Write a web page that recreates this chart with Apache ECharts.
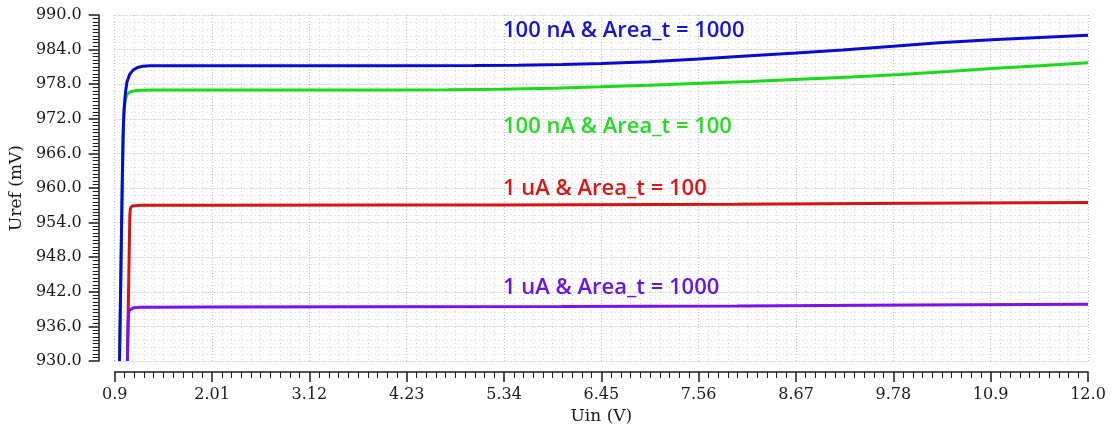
<!DOCTYPE html>
<html><head><meta charset="utf-8">
<script src="https://cdn.jsdelivr.net/npm/echarts@6/dist/echarts.min.js"></script>
<style>html,body{margin:0;padding:0;background:#fff}#c{width:1114px;height:432px}</style>
</head><body><div id="c"></div>
<script>
// ---- data ----
const xTickLabels = ['0.9','2.01','3.12','4.23','5.34','6.45','7.56','8.67','9.78','10.9','12.0'];
const seriesNames = ['100 nA & Area_t = 1000','100 nA & Area_t = 100','1 uA & Area_t = 100','1 uA & Area_t = 1000'];

const blueX = [0.955,0.97,0.985,0.995,1.005,1.02,1.04,1.07,1.11,1.16,1.22,1.3,1.5,2.0,3.0,4.0,5.0,5.5,6.0,6.45,7.0,7.56,8.1,8.67,9.2,9.78,10.3,10.9,11.45,12.0];
const blueY = [930,945,960,968.5,973.2,976.2,978.4,979.7,980.45,980.9,981.1,981.2,981.2,981.2,981.2,981.2,981.25,981.3,981.4,981.6,981.9,982.35,982.9,983.4,983.95,984.6,985.2,985.7,986.1,986.5];

const greenX = [0.955,0.97,0.985,0.998,1.01,1.025,1.045,1.08,1.13,1.2,1.3,1.5,2.0,3.0,4.0,4.7,5.3,5.9,6.44,7.0,7.58,8.15,8.72,9.3,9.86,10.4,10.95,11.45,12.0];
const greenY = [930,945,960,970.8,974.0,975.6,976.3,976.7,976.85,976.95,977.0,977.0,977.0,977.0,977.0,977.05,977.12,977.3,977.55,977.83,978.15,978.48,978.85,979.25,979.7,980.2,980.75,981.2,981.7];

const redX = [1.045,1.053,1.06,1.067,1.073,1.08,1.1,1.2,2.0,4.0,5.3,8.0,10.0,12.0];
const redY = [930,937.5,944,950.5,955.5,956.5,956.9,957.0,957.0,957.05,957.07,957.2,957.35,957.5];

const purpleX = [1.045,1.052,1.058,1.065,1.08,1.12,1.2,1.4,2.0,4.0,6.0,8.0,10.0,12.0];
const purpleY = [930,936,938.2,938.8,939.1,939.25,939.3,939.33,939.35,939.4,939.45,939.55,939.7,939.85];

const zip = (xs, ys) => xs.map((x, i) => [x, ys[i]]);

const colors = ['#0a0ad8','#18dc18','#dc1010','#7d10f0'];
const labelColors = ['#1414d8','#22dd22','#e01414','#6a12e8'];
const labelPos = [[503,29],[503,125],[503,187],[503,286]];

const chart = echarts.init(document.getElementById('c'), null, {renderer:'canvas'});
const serif = 'DejaVu Serif';

function mk(name, xs, ys, color, z){
  return {name, type:'line', data: zip(xs, ys), showSymbol:false, symbol:'none',
    lineStyle:{color, width:3}, itemStyle:{color}, z, smooth:false, animation:false};
}

chart.setOption({
  animation:false,
  grid:{left:113, right:26, top:15, bottom:71, containLabel:false},
  xAxis:[{
    type:'value', min:0.9, max:12.0, interval:1.11, offset:11,
    name:'Uin (V)', nameLocation:'middle', nameGap:36,
    nameTextStyle:{fontFamily:serif, fontSize:17, color:'#1a1a1a'},
    axisLine:{show:true, onZero:false, lineStyle:{color:'#1a1a1a', width:1.5}},
    axisTick:{show:true, length:10, lineStyle:{color:'#1a1a1a', width:1.5}},
    minorTick:{show:true, splitNumber:10, length:6, lineStyle:{color:'#1a1a1a', width:1}},
    axisLabel:{fontFamily:serif, fontSize:16, color:'#1a1a1a', margin:15,
      formatter:(v)=> xTickLabels[Math.round((v-0.9)/1.11)] ?? ''},
    splitLine:{show:true, lineStyle:{type:[1,2], color:'#bcbcbc', width:1}},
    minorSplitLine:{show:true, lineStyle:{type:[1,3], color:'#d4d4d4', width:1}}
  }],
  yAxis:[{
    type:'value', min:930, max:990, interval:6, offset:16,
    name:'Uref (mV)', nameLocation:'middle', nameGap:63,
    nameTextStyle:{fontFamily:serif, fontSize:17, color:'#1a1a1a'},
    axisLine:{show:true, onZero:false, lineStyle:{color:'#1a1a1a', width:1.5}},
    axisTick:{show:true, length:10, lineStyle:{color:'#1a1a1a', width:1.5}},
    minorTick:{show:true, splitNumber:10, length:6, lineStyle:{color:'#1a1a1a', width:1}},
    axisLabel:{fontFamily:serif, fontSize:16, color:'#1a1a1a', margin:17,
      formatter:(v)=> v.toFixed(1)},
    splitLine:{show:true, lineStyle:{type:[1,2], color:'#bcbcbc', width:1}},
    minorSplitLine:{show:false}
  },{
    type:'value', min:930, max:990, interval:1.2, position:'left',
    axisLine:{show:false}, axisTick:{show:false}, axisLabel:{show:false},
    splitLine:{show:true, lineStyle:{type:[1,3], color:'#d4d4d4', width:1}}
  }],
  series:[
    mk(seriesNames[1], greenX, greenY, colors[1], 2),
    mk(seriesNames[0], blueX, blueY, colors[0], 3),
    mk(seriesNames[2], redX, redY, colors[2], 2),
    mk(seriesNames[3], purpleX, purpleY, colors[3], 3)
  ],
  graphic: seriesNames.map((n,i)=>({
    type:'text', left:labelPos[i][0], top:labelPos[i][1]-9, z:100,
    style:{text:n, fill:labelColors[i], font:'600 22px "Open Sans"'}
  }))
});
</script></body></html>
